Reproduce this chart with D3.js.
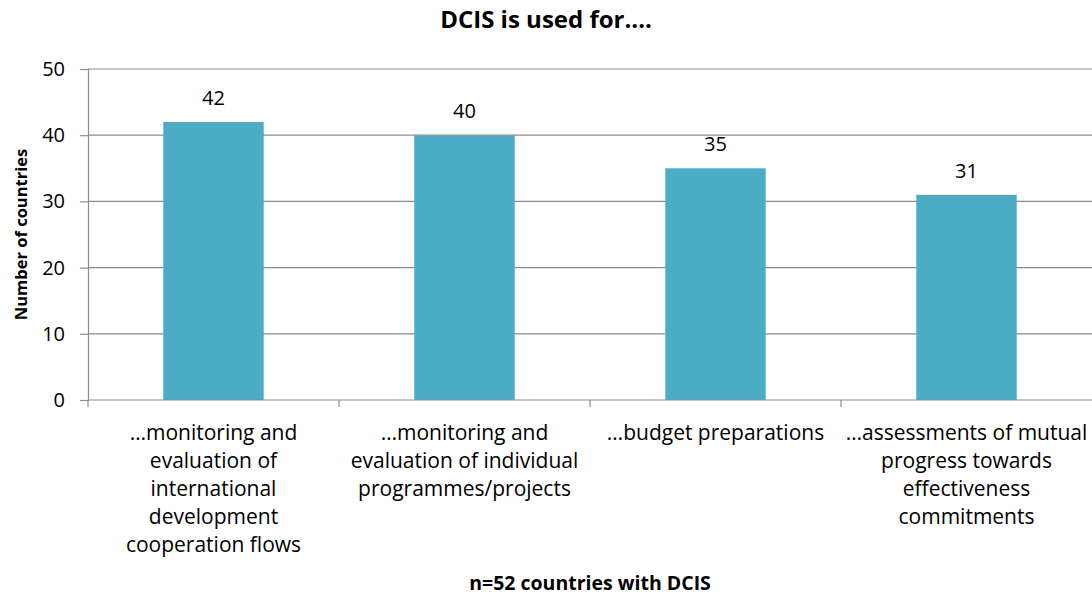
<!DOCTYPE html>
<html>
<head>
<meta charset="utf-8">
<script src="https://cdn.jsdelivr.net/npm/d3@7"></script>
<style>
  body { margin: 0; background: #fff; }
  svg { display: block; font-family: "Open Sans", sans-serif; }
</style>
</head>
<body>
<svg width="1092" height="597"></svg>
<script>
const categories = [
  ["…monitoring and", "evaluation of", "international", "development", "cooperation flows"],
  ["…monitoring and", "evaluation of individual", "programmes/projects"],
  ["…budget preparations"],
  ["…assessments of mutual", "progress towards", "effectiveness", "commitments"]
];
const values = [42, 40, 35, 31];
const y_ticks = [0, 10, 20, 30, 40, 50];

const title = "DCIS is used for....";
const y_title = "Number of countries";
const x_title = "n=52 countries with DCIS";

const width = 1092;
const height = 597;
const margin = { top: 69, right: 0, bottom: 197, left: 88 };
const grid_color = "#8c8c8c";
const bar_color = "#4bacc6";

const svg = d3.select("svg");

const x = d3.scaleBand(d3.range(categories.length), [margin.left, width - margin.right])
  .paddingInner(0.6)
  .paddingOuter(0.3);
const x_edges = d3.scaleLinear([0, categories.length], [margin.left, width - margin.right]);
const y = d3.scaleLinear([0, 50], [height - margin.bottom, margin.top]);

// gridlines
svg.append("g")
  .selectAll("line")
  .data(y_ticks.slice(1))
  .join("line")
    .attr("x1", margin.left)
    .attr("x2", width - margin.right)
    .attr("y1", d => y(d))
    .attr("y2", d => y(d))
    .attr("stroke", grid_color)
    .attr("stroke-width", 1.2);

// bars
svg.append("g")
  .selectAll("rect")
  .data(values)
  .join("rect")
    .attr("x", (d, i) => x(i))
    .attr("width", x.bandwidth())
    .attr("y", d => y(d))
    .attr("height", d => y(0) - y(d))
    .attr("fill", bar_color);

// value labels
svg.append("g")
  .selectAll("text")
  .data(values)
  .join("text")
    .attr("x", (d, i) => x(i) + x.bandwidth() / 2)
    .attr("y", d => y(d) - 17)
    .attr("text-anchor", "middle")
    .attr("font-size", 20)
    .attr("fill", "#000")
    .text(d => d);

// y axis
const y_axis = svg.append("g")
  .attr("transform", `translate(${margin.left},0)`)
  .call(d3.axisLeft(y).tickValues(y_ticks).tickSize(8).tickPadding(15));
y_axis.select(".domain").attr("stroke", grid_color).attr("stroke-width", 1.2);
y_axis.selectAll(".tick line").attr("stroke", grid_color).attr("stroke-width", 1.2);
y_axis.selectAll(".tick text")
  .attr("font-size", 20)
  .attr("font-family", "Open Sans, sans-serif")
  .attr("fill", "#000");

// x axis line and ticks at category edges
svg.append("line")
  .attr("x1", margin.left)
  .attr("x2", width - margin.right)
  .attr("y1", y(0))
  .attr("y2", y(0))
  .attr("stroke", grid_color)
  .attr("stroke-width", 1.2);
svg.append("g")
  .selectAll("line")
  .data(d3.range(categories.length))
  .join("line")
    .attr("x1", d => x_edges(d))
    .attr("x2", d => x_edges(d))
    .attr("y1", y(0))
    .attr("y2", y(0) + 7)
    .attr("stroke", grid_color)
    .attr("stroke-width", 1.2);

// category labels
svg.append("g")
  .selectAll("text")
  .data(categories)
  .join("text")
    .attr("x", (d, i) => x(i) + x.bandwidth() / 2)
    .attr("y", y(0) + 40)
    .attr("text-anchor", "middle")
    .attr("font-size", 21)
    .attr("fill", "#000")
    .selectAll("tspan")
    .data(d => d)
    .join("tspan")
      .attr("x", function() { return this.parentNode.getAttribute("x"); })
      .attr("dy", (d, i) => i === 0 ? 0 : 28)
      .text(d => d);

// titles
svg.append("text")
  .attr("x", width / 2)
  .attr("y", 28)
  .attr("text-anchor", "middle")
  .attr("font-size", 24)
  .attr("font-weight", "bold")
  .text(title);

svg.append("text")
  .attr("transform", `translate(27,${(y(0) + y(50)) / 2}) rotate(-90)`)
  .attr("text-anchor", "middle")
  .attr("font-size", 16.5)
  .attr("font-weight", "bold")
  .text(y_title);

svg.append("text")
  .attr("x", (margin.left + width - margin.right) / 2)
  .attr("y", 590)
  .attr("text-anchor", "middle")
  .attr("font-size", 19.5)
  .attr("font-weight", "bold")
  .text(x_title);
</script>
</body>
</html>
